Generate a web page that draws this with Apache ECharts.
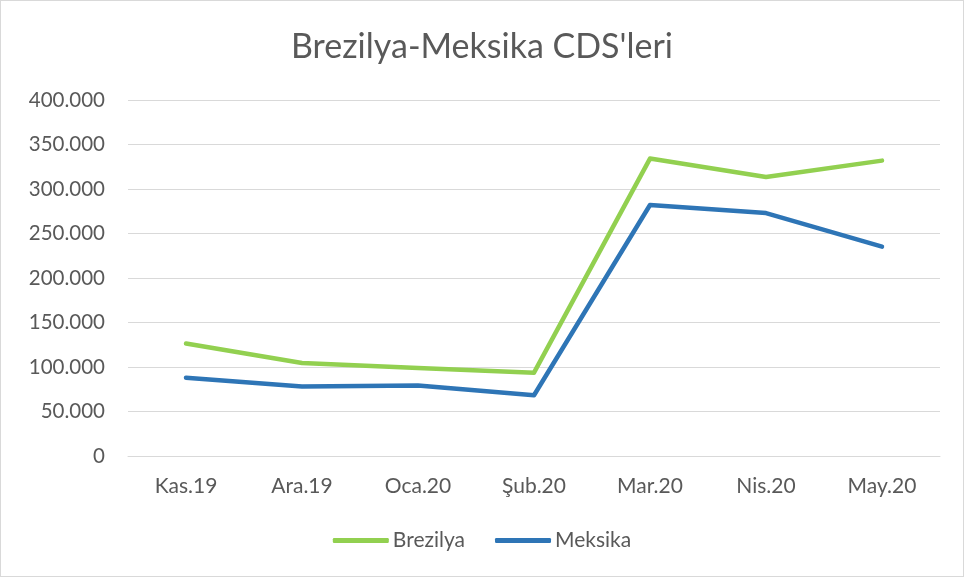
<!DOCTYPE html>
<html>
<head>
<meta charset="utf-8">
<script src="https://cdn.jsdelivr.net/npm/echarts@6/dist/echarts.min.js"></script>
<style>
html,body{margin:0;padding:0;background:#fff;}
#chart{width:962px;height:575px;border:1px solid #d9d9d9;}
</style>
</head>
<body>
<div id="chart"></div>
<script>
// veriler
var categories = ['Kas.19', 'Ara.19', 'Oca.20', 'Şub.20', 'Mar.20', 'Nis.20', 'May.20'];
var brezilya = [126.3, 104.4, 98.8, 93.6, 334.2, 313.5, 331.9];
var meksika = [88.0, 78.2, 79.3, 68.3, 282.0, 272.9, 235.3];
var yTicks = ['0', '50.000', '100.000', '150.000', '200.000', '250.000', '300.000', '350.000', '400.000'];

var chart = echarts.init(document.getElementById('chart'));
var font = 'Lato, "Open Sans", sans-serif';
var option = {
    textStyle: { fontFamily: font },
    title: {
        text: "Brezilya-Meksika CDS'leri",
        left: 'center',
        top: 24,
        textStyle: { fontFamily: font, fontSize: 34, fontWeight: 'normal', color: '#595959' }
    },
    grid: { left: 127, right: 23, top: 99, bottom: 120 },
    legend: {
        bottom: 20,
        icon: 'roundRect',
        itemWidth: 56,
        itemHeight: 5,
        itemGap: 30,
        textStyle: { fontFamily: font, fontSize: 21, color: '#595959', padding: [0, 0, 0, -1] },
        data: ['Brezilya', 'Meksika']
    },
    xAxis: {
        type: 'category',
        data: categories,
        boundaryGap: true,
        axisTick: { show: false },
        axisLine: { lineStyle: { color: '#d9d9d9', width: 1 } },
        axisLabel: { color: '#595959', fontSize: 21, margin: 20, fontFamily: font }
    },
    yAxis: {
        type: 'value',
        min: 0,
        max: 400,
        interval: 50,
        axisLine: { show: false },
        axisTick: { show: false },
        splitLine: { lineStyle: { color: '#d9d9d9', width: 1 } },
        axisLabel: {
            color: '#595959', fontSize: 20.5, margin: 23, fontFamily: font,
            formatter: function (v) { return yTicks[Math.round(v / 50)]; }
        }
    },
    series: [{
        name: 'Brezilya',
        type: 'line',
        data: brezilya,
        symbol: 'none',
        color: '#92d050',
        lineStyle: { width: 4.5, color: '#92d050', cap: 'round', join: 'round' }
    }, {
        name: 'Meksika',
        type: 'line',
        data: meksika,
        symbol: 'none',
        color: '#2e75b6',
        lineStyle: { width: 4.5, color: '#2e75b6', cap: 'round', join: 'round' }
    }],
    animation: false
};
chart.setOption(option);
</script>
</body>
</html>
